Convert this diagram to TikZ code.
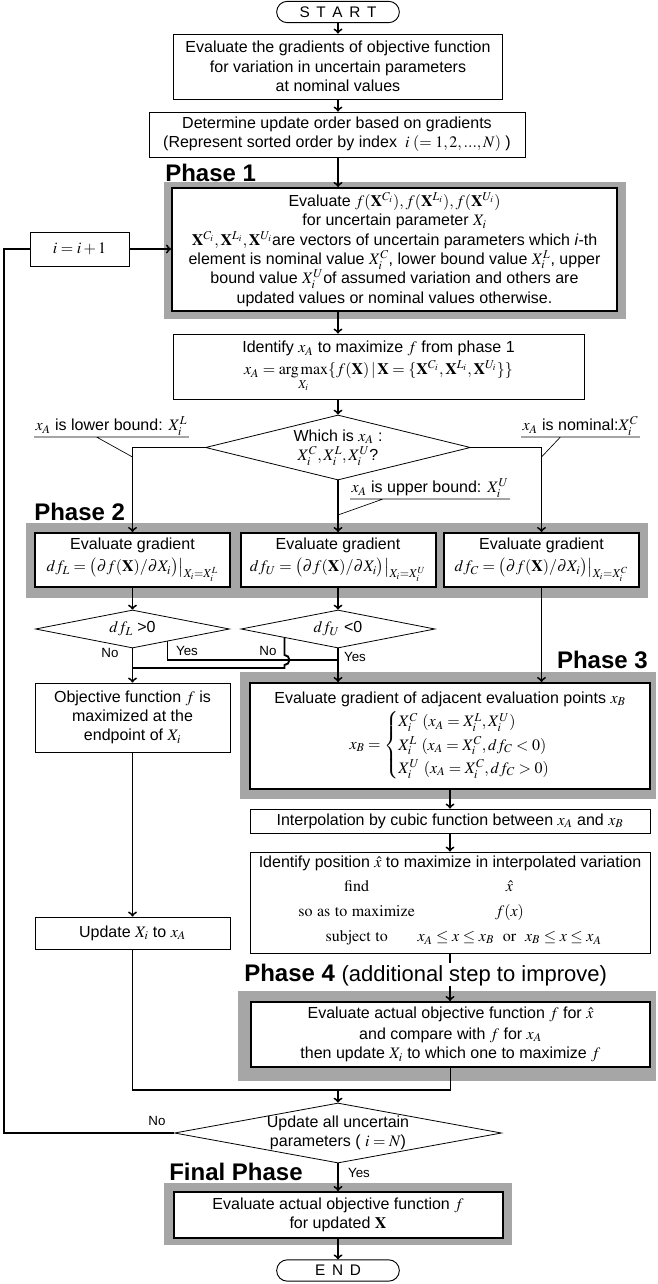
\documentclass[tikz,border=0pt]{standalone}
\usepackage{mathptmx}
\usepackage[no-math]{fontspec}
\setmainfont{Liberation Sans}
\usetikzlibrary{shapes.geometric,calc}
\begin{document}
\begin{tikzpicture}[x=0.75pt,y=-0.75pt,font=\fontsize{12}{14.5}\selectfont,
  box/.style={draw,line width=0.7pt,align=center,inner sep=0pt},
  phasebox/.style={draw,line width=1.5pt,fill=white,align=center,inner sep=0pt},
  phasebg/.style={fill=black!35,inner sep=0pt},
  pill/.style={draw,line width=0.7pt,rounded corners=8pt,minimum width=92pt,minimum height=16pt,inner sep=0pt,font=\fontsize{11.5}{13}\selectfont},
  decision/.style={draw,diamond,line width=0.6pt,inner sep=0pt},
  phase/.style={inner sep=0pt,font=\fontsize{18}{20}\selectfont\bfseries},
  tag/.style={inner sep=1pt,anchor=south west},
  yn/.style={inner sep=1pt,font=\fontsize{10}{12}\selectfont},
  flow/.style={line width=1.4pt},
  leader/.style={line width=0.5pt}]
\useasboundingbox (0,0) rectangle (657,1284);
\node[phasebg,minimum width=346.5pt,minimum height=102.75pt] (p1bg) at (395,250.5) {};
\node[phasebg,minimum width=466.5pt,minimum height=56.25pt] (p2bg) at (337,560.5) {};
\node[phasebg,minimum width=312pt,minimum height=95.25pt] (p3bg) at (448,735.5) {};
\node[phasebg,minimum width=313.5pt,minimum height=67.5pt] (p4bg) at (447,1036) {};
\node[phasebg,minimum width=261pt,minimum height=46.5pt] (finbg) at (338,1214) {};
\node[phase,anchor=base west] (p1lab) at (165,181) {Phase 1};
\node[phase,anchor=base west] (p2lab) at (34,520) {Phase 2};
\node[phase,anchor=base east] (p3lab) at (648,668) {Phase 3};
\node[phase,anchor=base west] (p4lab) at (244,981) {Phase 4 {\fontsize{16.5}{18}\selectfont\mdseries (additional step to improve)}};
\node[phase,anchor=base west] (finlab) at (169,1180) {Final Phase};
\node[pill] (start) at (338,12) {S\kern5pt T\kern5pt A\kern5pt R\kern5pt T};
\node[box,minimum width=246.75pt,minimum height=48.75pt] (eval) at (338,66.5) {Evaluate the gradients of objective function\\for variation in uncertain parameters\\at nominal values};
\node[box,minimum width=282pt,minimum height=33.75pt] (order) at (337,134.5) {Determine update order based on gradients\\(Represent sorted order by index $\;i\;(=1,2,...,N)$ )};
\node[phasebox,minimum width=333.75pt,minimum height=92.25pt] (p1) at (394.5,249.5) {Evaluate $f(\mathbf{X}^{C_i}),f(\mathbf{X}^{L_i}),f(\mathbf{X}^{U_i})$\\for uncertain parameter $X_i$\\$\mathbf{X}^{C_i},\mathbf{X}^{L_i},\mathbf{X}^{U_i}$are vectors of uncertain parameters which \textit{i}-th\\element is nominal value $X_i^C$, lower bound value $X_i^L$, upper\\bound value $X_i^U$of assumed variation and others are\\updated values or nominal values otherwise.};
\node[box,minimum width=74.25pt,minimum height=25.5pt] (inc) at (79.5,249) {$i=i+1$};
\node[box,minimum width=308.25pt,minimum height=48.75pt] (ident) at (378.5,366.5) {Identify $x_A$ to maximize $f$ from phase 1\\[2pt]$x_A=\mathop{\mathrm{arg\,max}}\limits_{X_i}\{f(\mathbf{X})\,|\,\mathbf{X}=\{\mathbf{X}^{C_i},\mathbf{X}^{L_i},\mathbf{X}^{U_i}\}\}$};
\node[decision,minimum width=198.75pt,minimum height=48.75pt] (which) at (338,447.5) {};
\node[align=center,inner sep=0pt] (whichtxt) at (which) {Which is $x_A$ :\\$X_i^C,X_i^L,X_i^U$?};
\node[tag] (lowlab) at (34,437) {$x_A$ is lower bound: $X_i^L$};
\node[tag] (nomlab) at (521,437) {$x_A$ is nominal:$X_i^C$};
\node[tag] (uplab) at (350,499) {$x_A$ is upper bound: $X_i^U$};
\node[phasebox,minimum width=146.25pt,minimum height=40.5pt] (gradL) at (132.5,560) {Evaluate gradient\\[2pt]$df_L=\bigl(\partial f(\mathbf{X})/\partial X_i\bigr)\big|_{X_i=X_i^L}$};
\node[phasebox,minimum width=146.25pt,minimum height=40.5pt] (gradU) at (338,560) {Evaluate gradient\\[2pt]$df_U=\bigl(\partial f(\mathbf{X})/\partial X_i\bigr)\big|_{X_i=X_i^U}$};
\node[phasebox,minimum width=146.25pt,minimum height=40.5pt] (gradC) at (541.5,560) {Evaluate gradient\\[2pt]$df_C=\bigl(\partial f(\mathbf{X})/\partial X_i\bigr)\big|_{X_i=X_i^C}$};
\node[decision,minimum width=145.5pt,minimum height=28.5pt] (dL) at (132.5,629) {};
\node[inner sep=0pt] (dLtxt) at (dL) {$df_L$ >0};
\node[decision,minimum width=145.5pt,minimum height=28.5pt] (dU) at (338,629) {};
\node[inner sep=0pt] (dUtxt) at (dU) {$df_U$ <0};
\node[box,minimum width=146.25pt,minimum height=51.75pt] (obj) at (132.5,717.5) {Objective function $f$ is\\maximized at the\\endpoint of $X_i$};
\node[phasebox,minimum width=300pt,minimum height=79.5pt] (p3) at (450,736) {Evaluate gradient of adjacent evaluation points $x_B$\\[2pt]\def\arraystretch{1.2}$x_B=\left\{\begin{array}{@{}l@{}}X_i^C\ (x_A=X_i^L,X_i^U)\\X_i^L\ (x_A=X_i^C,df_C<0)\\X_i^U\ (x_A=X_i^C,df_C>0)\end{array}\right.$};
\node[box,minimum width=300pt,minimum height=18pt] (interp) at (450,821) {Interpolation by cubic function between $x_A$ and $x_B$};
\node[box,minimum width=300pt,minimum height=75.75pt] (pos) at (450,902.5) {Identify position $\hat{x}$ to maximize in interpolated variation\\[1pt]\def\arraystretch{1.3}$\begin{array}{@{}c@{\hspace{2pt}}c@{}}\mathrm{find}&\hat{x}\\\mathrm{so\ as\ to\ maximize}&f(x)\\\mathrm{subject\ to}&x_A\le x\le x_B\ \ \mathrm{or}\ \ x_B\le x\le x_A\end{array}$};
\node[box,minimum width=146.25pt,minimum height=24pt] (update) at (132.5,933) {Update $X_i$ to $x_A$};
\node[phasebox,minimum width=299.25pt,minimum height=48.75pt] (p4) at (450.5,1034.5) {Evaluate actual objective function $f$ for $\hat{x}$\\[1pt]and compare with $f$ for $x_A$\\then update $X_i$ to which one to maximize $f$};
\node[decision,minimum width=245.25pt,minimum height=45pt] (done) at (338,1133) {};
\node[align=center,inner sep=0pt] (donetxt) at (done) {Update all uncertain\\parameters ( $i=N$)};
\node[phasebox,minimum width=246.75pt,minimum height=34.5pt] (fin) at (338,1215) {Evaluate actual objective function $f$\\for updated $\mathbf{X}$};
\node[pill] (end) at (338,1270.5) {E\kern5pt N\kern5pt D};
\coordinate (yesL) at ($(dL.south)!0.36!(dL.east)$);
\coordinate (noU) at ($(dU.south)!0.55!(dU.west)$);
\coordinate (yesjoin) at (dU.south |- 0,660);
\coordinate (join) at (338,1090);
\coordinate (back) at (4,1133);
\coordinate (lowpt) at (gradL.north |- 0,457);
\coordinate (nompt) at (gradC.north |- 0,457);
\coordinate (uppt) at (gradU.north |- 0,515);
\draw[flow,->] (start) -- (eval);
\draw[flow,->] (eval.south) -- (order.north -| eval.south);
\draw[flow,->] (order.south -| which) -- (p1.north -| which);
\draw[flow,->] (inc.east) -- (inc.east -| p1.west);
\draw[flow,->] (p1.south -| which) -- (ident.north -| which);
\draw[flow,->] (ident.south -| which) -- (which.north);
\draw[flow,->] (which.west) -| (gradL.north);
\draw[flow,->] (which.east) -| (gradC.north);
\draw[flow,->] (which.south) -- (gradU.north);
\draw[leader] (lowlab.south west) -- (lowlab.south east) ($(lowlab.south)+(-15,0)$) -- (lowpt);
\draw[leader] (nomlab.south west) -- (nomlab.south east) ($(nomlab.south)+(-20,0)$) -- (nompt);
\draw[leader] (uplab.south west) -- (uplab.south east) ($(uplab.south)+(-47,0)$) -- (uppt);
\draw[flow,->] (gradL) -- (dL);
\draw[flow,->] (gradU) -- (dU);
\draw[flow,->] (dL.south) -- (obj.north);
\draw[flow] (yesL) |- (yesjoin);
\draw[flow] (noU) -- (noU |- 0,655) arc (-90:90:5) -- (noU |- 0,668) -- (dL.south |- 0,668);
\draw[flow,->] (dU.south) -- (p3.north -| dU.south);
\draw[flow,->] (gradC.south) -- (p3.north -| gradC.south);
\node[yn] (noLtxt) at (110,653) {No};
\node[yn] (yesLtxt) at (187,651) {Yes};
\node[yn] (noUtxt) at (268,651) {No};
\node[yn] (yesUtxt) at (355,657) {Yes};
\draw[flow,->] (p3.south -| interp) -- (interp.north);
\draw[flow,->] (interp) -- (pos);
\draw[flow] (pos.south) -- (pos.south |- p4lab.north);
\draw[flow,->] (pos.south |- p4lab.south) -- (p4.north -| pos.south);
\draw[flow,->] (obj) -- (update);
\draw[flow] (update.south) |- (join) -| (p4.south);
\draw[flow,->] (join) -- (done.north);
\draw[flow] (done.west) -- (back) |- (inc.west);
\node[yn] (noDtxt) at (157,1121) {No};
\draw[flow,->] (done.south) -- (fin.north);
\node[yn] (yesDtxt) at (359,1173) {Yes};
\draw[flow,->] (fin.south) -- (end.north);
\end{tikzpicture}
\end{document}
